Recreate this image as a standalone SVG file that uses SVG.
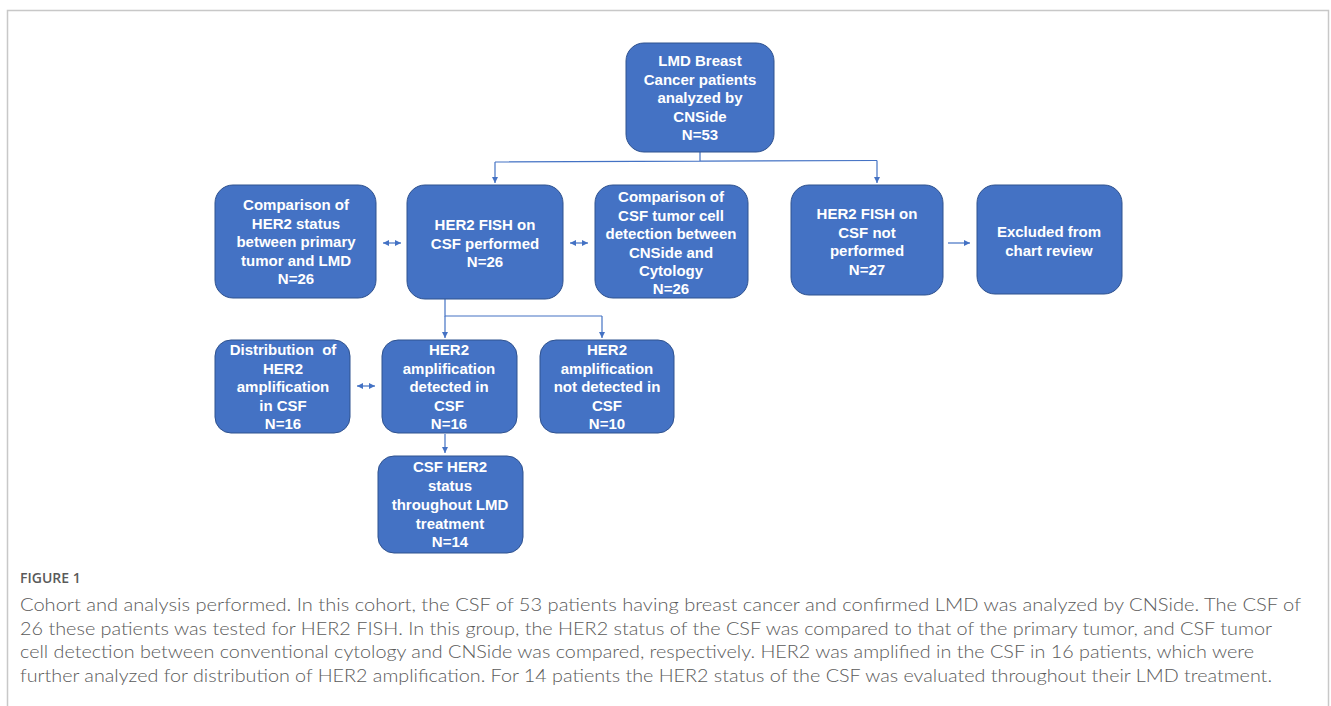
<svg xmlns="http://www.w3.org/2000/svg" width="1331" height="706" viewBox="0 0 1331 706">
<style>
.box{fill:#4472C4;stroke:#2F528F;stroke-width:1}
.t{font-family:"Liberation Sans",Arial,sans-serif;font-weight:bold;font-size:15px;fill:#fff;text-anchor:middle}
.c{fill:none;stroke:#4472C4;stroke-width:1.2}
.cap{font-family:Lato,"Open Sans","Liberation Sans",sans-serif;font-weight:300;font-size:17.5px;fill:#5a5a5a}
.fig{font-family:"Open Sans","Liberation Sans",sans-serif;font-weight:600;font-size:14px;fill:#5a5a5a}
</style>
<defs>
<marker id="ah" viewBox="0 0 10 10" refX="10" refY="5" markerWidth="6" markerHeight="6" orient="auto-start-reverse" markerUnits="userSpaceOnUse">
<path d="M0,0 L10,5 L0,10 z" fill="#4472C4"/>
</marker>
</defs>
<rect x="7.5" y="10.5" width="1321" height="710" fill="#fff" stroke="#c8c8c8" stroke-width="1.5"/>

<g id="connectors">
<path class="c" d="M700,152 V161.5 M495,162 L877,160.5"/>
<path class="c" d="M495,162 V183" marker-end="url(#ah)"/>
<path class="c" d="M877,160.5 V183" marker-end="url(#ah)"/>
<path class="c" d="M383,243 H401" marker-start="url(#ah)" marker-end="url(#ah)"/>
<path class="c" d="M570,243 H588" marker-start="url(#ah)" marker-end="url(#ah)"/>
<path class="c" d="M948,243 H970" marker-end="url(#ah)"/>
<path class="c" d="M445,299 V316 H602"/>
<path class="c" d="M445,316 V338" marker-end="url(#ah)"/>
<path class="c" d="M602,316 V338" marker-end="url(#ah)"/>
<path class="c" d="M357,386 H375" marker-start="url(#ah)" marker-end="url(#ah)"/>
<path class="c" d="M445,434 V453" marker-end="url(#ah)"/>
</g>

<g id="n_top">
<rect class="box" x="626" y="43" width="148" height="109" rx="18"/>
<text class="t" x="700" y="66">LMD Breast</text>
<text class="t" x="700" y="84.5">Cancer patients</text>
<text class="t" x="700" y="103">analyzed by</text>
<text class="t" x="700" y="121.5">CNSide</text>
<text class="t" x="700" y="140">N=53</text>
</g>

<g id="n_cmp_her2">
<rect class="box" x="215" y="185" width="161" height="113" rx="18"/>
<text class="t" x="296" y="210">Comparison of</text>
<text class="t" x="296" y="228.5">HER2 status</text>
<text class="t" x="296" y="247">between primary</text>
<text class="t" x="296" y="265.5">tumor and LMD</text>
<text class="t" x="296" y="284">N=26</text>
</g>

<g id="n_fish">
<rect class="box" x="407" y="185" width="156" height="114" rx="18"/>
<text class="t" x="485" y="230">HER2 FISH on</text>
<text class="t" x="485" y="248.5">CSF performed</text>
<text class="t" x="485" y="267">N=26</text>
</g>

<g id="n_cmp_csf">
<rect class="box" x="595" y="185" width="153" height="113" rx="18"/>
<text class="t" x="671" y="202">Comparison of</text>
<text class="t" x="671" y="220.5">CSF tumor cell</text>
<text class="t" x="671" y="239">detection between</text>
<text class="t" x="671" y="257.5">CNSide and</text>
<text class="t" x="671" y="276">Cytology</text>
<text class="t" x="671" y="294">N=26</text>
</g>

<g id="n_fish_not">
<rect class="box" x="791" y="185" width="152" height="110" rx="18"/>
<text class="t" x="867" y="219">HER2 FISH on</text>
<text class="t" x="867" y="237.5">CSF not</text>
<text class="t" x="867" y="256">performed</text>
<text class="t" x="867" y="274.5">N=27</text>
</g>

<g id="n_excluded">
<rect class="box" x="977" y="185" width="145" height="109" rx="18"/>
<text class="t" x="1049" y="237">Excluded from</text>
<text class="t" x="1049" y="255.5">chart review</text>
</g>

<g id="n_dist">
<rect class="box" x="215" y="340" width="135" height="93" rx="16"/>
<text class="t" x="283" y="355" xml:space="preserve">Distribution  of</text>
<text class="t" x="283" y="373.5">HER2</text>
<text class="t" x="283" y="392">amplification</text>
<text class="t" x="283" y="410.5">in CSF</text>
<text class="t" x="283" y="429">N=16</text>
</g>

<g id="n_amp">
<rect class="box" x="382" y="340" width="135" height="93" rx="16"/>
<text class="t" x="449" y="355">HER2</text>
<text class="t" x="449" y="373.5">amplification</text>
<text class="t" x="449" y="392">detected in</text>
<text class="t" x="449" y="410.5">CSF</text>
<text class="t" x="449" y="429">N=16</text>
</g>

<g id="n_noamp">
<rect class="box" x="540" y="340" width="134" height="93" rx="16"/>
<text class="t" x="607" y="355">HER2</text>
<text class="t" x="607" y="373.5">amplification</text>
<text class="t" x="607" y="392">not detected in</text>
<text class="t" x="607" y="410.5">CSF</text>
<text class="t" x="607" y="429">N=10</text>
</g>

<g id="n_status">
<rect class="box" x="378" y="456" width="145" height="97" rx="16"/>
<text class="t" x="450" y="472">CSF HER2</text>
<text class="t" x="450" y="491">status</text>
<text class="t" x="450" y="510">throughout LMD</text>
<text class="t" x="450" y="528.5">treatment</text>
<text class="t" x="450" y="547">N=14</text>
</g>

<g id="caption">
<text class="fig" x="20" y="583">FIGURE 1</text>
<text class="cap" x="20" y="611" textLength="1281" lengthAdjust="spacingAndGlyphs">Cohort and analysis performed. In this cohort, the CSF of 53 patients having breast cancer and confirmed LMD was analyzed by CNSide. The CSF of</text>
<text class="cap" x="20" y="635" textLength="1252" lengthAdjust="spacingAndGlyphs">26 these patients was tested for HER2 FISH. In this group, the HER2 status of the CSF was compared to that of the primary tumor, and CSF tumor</text>
<text class="cap" x="20" y="658" textLength="1234" lengthAdjust="spacingAndGlyphs">cell detection between conventional cytology and CNSide was compared, respectively. HER2 was amplified in the CSF in 16 patients, which were</text>
<text class="cap" x="20" y="682" textLength="1252" lengthAdjust="spacingAndGlyphs">further analyzed for distribution of HER2 amplification. For 14 patients the HER2 status of the CSF was evaluated throughout their LMD treatment.</text>
</g>
</svg>
